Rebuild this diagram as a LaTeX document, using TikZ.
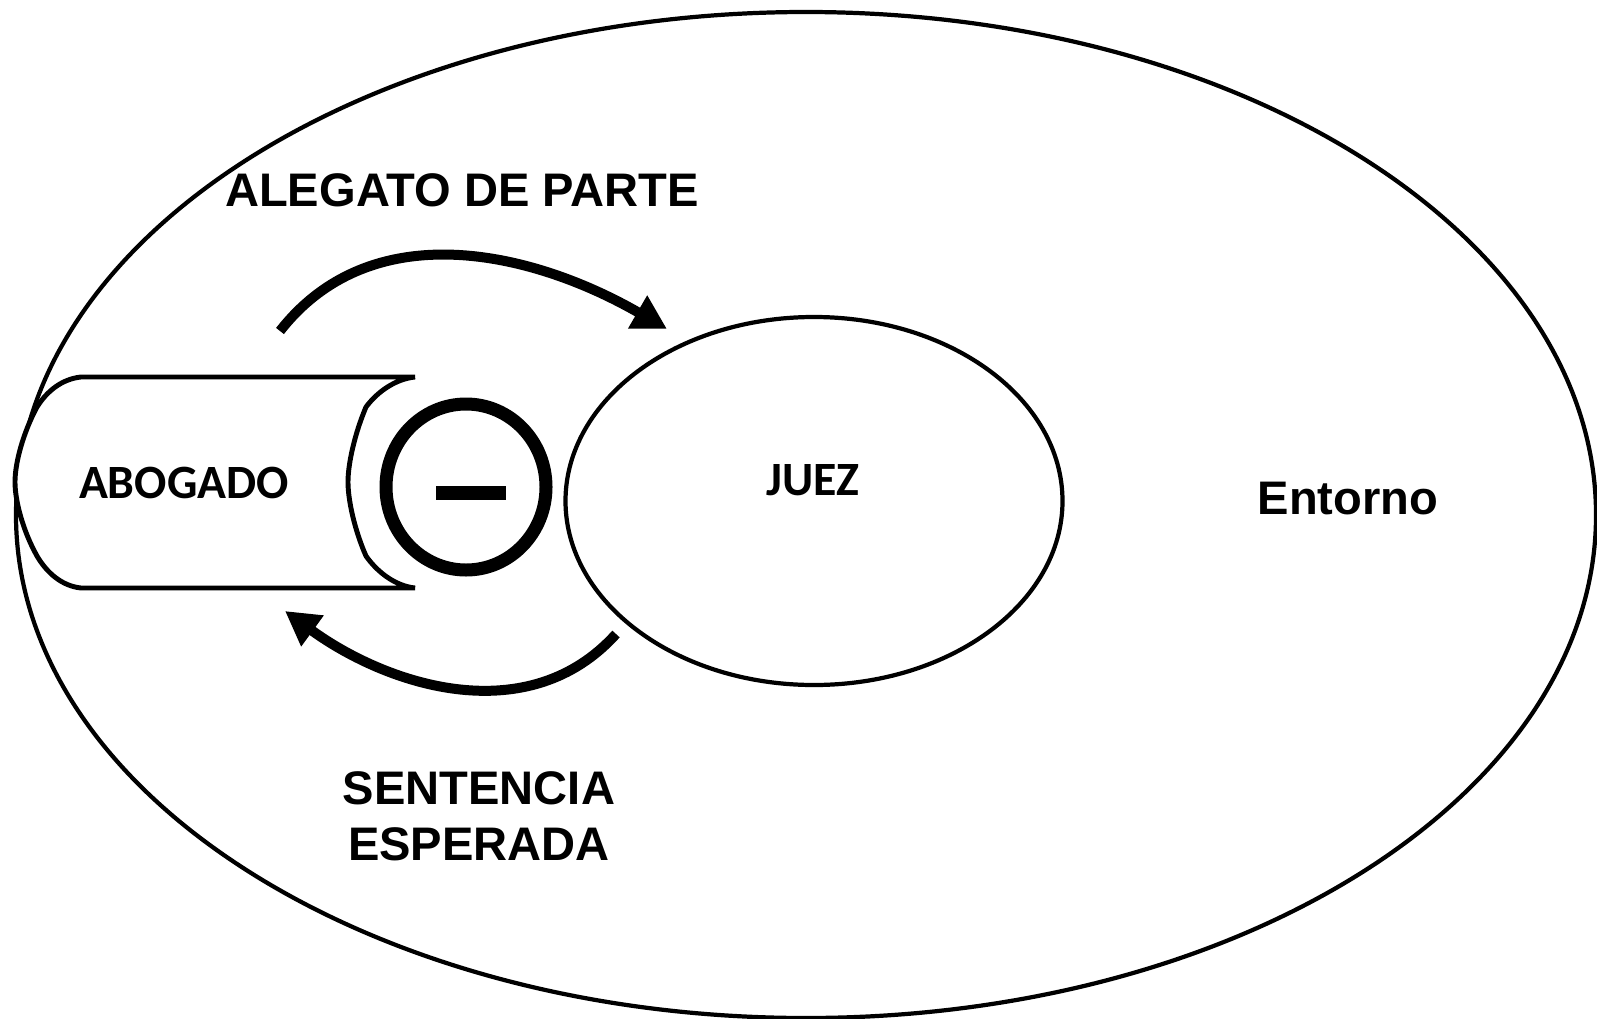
\documentclass[tikz,border=0pt]{standalone}
\usepackage{fontspec}
\setmainfont{Liberation Sans}
\newfontfamily\calibri{Carlito}
\usetikzlibrary{arrows.meta,shapes.geometric,calc}
\tikzstyle{bigarrow} = [line width=0.1cm,-{Triangle[width=0.36cm,length=0.34cm]}]
\tikzstyle{lbl} = [font=\fontsize{13.4}{15.9}\selectfont\bfseries, inner sep=0pt]
\tikzstyle{cal} = [font=\fontsize{13.6}{16}\selectfont\calibri\bfseries, inner sep=0pt]

\begin{document}
\begin{tikzpicture}
\useasboundingbox (0,0) rectangle (15.97,10.18);
% entorno
\node (entorno) [draw, line width=1.2pt, ellipse, minimum width=15.8cm, minimum height=10.06cm] at (8.06,5.03) {};
% juez
\node (juez) [draw, line width=1.2pt, ellipse, minimum width=4.97cm, minimum height=3.68cm] at (8.14,5.17) {};
% abogado (cilindro)
\draw[line width=1.4pt, fill=white] (0.81,6.41) -- (4.15,6.41)
 .. controls (3.96,6.39) and (3.78,6.27) .. (3.66,6.11)
 .. controls (3.55,5.85) and (3.48,5.55) .. (3.48,5.36)
 .. controls (3.48,5.17) and (3.55,4.87) .. (3.66,4.62)
 .. controls (3.78,4.45) and (3.96,4.32) .. (4.15,4.30)
 -- (0.81,4.30)
 .. controls (0.62,4.32) and (0.47,4.45) .. (0.37,4.62)
 .. controls (0.23,4.87) and (0.15,5.17) .. (0.15,5.36)
 .. controls (0.15,5.55) and (0.23,5.85) .. (0.37,6.11)
 .. controls (0.47,6.27) and (0.62,6.39) .. cycle;
% signo menos
\node (menos) [draw, line width=0.13cm, ellipse, minimum width=1.6cm, minimum height=1.66cm] at (4.66,5.31) {};
\fill ($(menos.center)+(-0.30,-0.125)$) rectangle ($(menos.center)+(0.40,0.01)$);
% flechas
\coordinate (a1) at (2.80,6.87);
\coordinate (a2) at (6.67,6.89);
\coordinate (s1) at (6.16,3.84);
\coordinate (s2) at (2.85,4.07);
\draw[bigarrow] (a1) to[out=52,in=150] (a2);
\draw[bigarrow] (s1) to[out=228,in=-36] (s2);
% textos
\node (alegato) [lbl] at (4.62,8.28) {ALEGATO DE PARTE};
\node (sentencia) [lbl, align=center] at (4.79,2.015) {SENTENCIA\\ESPERADA};
\node (ent) [lbl] at (13.48,5.19) {Entorno};
\node (abogado) [cal] at (1.84,5.35) {ABOGADO};
\node (juezlbl) [cal] at (8.13,5.38) {JUEZ};
\end{tikzpicture}
\end{document}
